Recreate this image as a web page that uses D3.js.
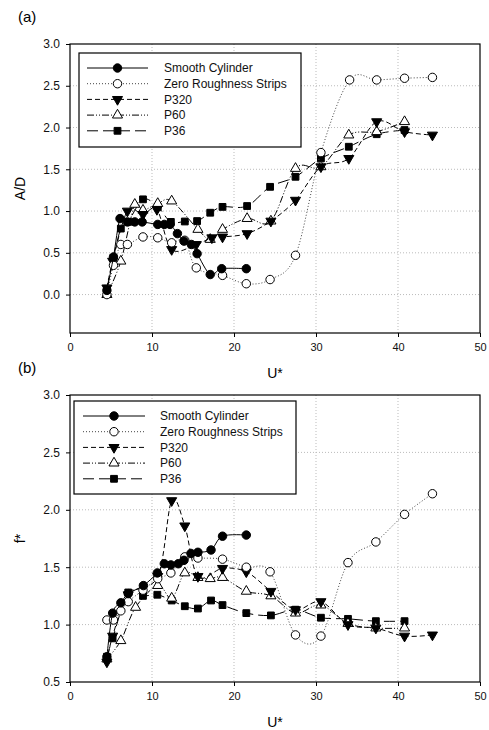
<!DOCTYPE html>
<html>
<head>
<meta charset="utf-8">
<script src="https://cdn.jsdelivr.net/npm/d3@7"></script>
<style>
  body { margin: 0; background: #fff; }
  text { font-family: "Liberation Sans", Arial, sans-serif; fill: #000; }
</style>
</head>
<body>
<svg id="fig" width="489" height="730"></svg>
<script>
// series names (legend order)
var seriesNames = ["Smooth Cylinder", "Zero Roughness Strips", "P320", "P60", "P36"];

// tick labels
var xTicks = [0, 10, 20, 30, 40, 50];
var yTicksA = [0.0, 0.5, 1.0, 1.5, 2.0, 2.5, 3.0];
var yTicksB = [0.5, 1.0, 1.5, 2.0, 2.5, 3.0];

// (a) amplitude A/D vs U*
var aSmooth = [[4.5, 0.05], [5.3, 0.45], [6.1, 0.91], [7.0, 0.87], [7.9, 0.87], [8.8, 0.87],
  [10.7, 0.84], [11.5, 0.84], [12.2, 0.84], [13.1, 0.73], [13.9, 0.64], [14.8, 0.60],
  [15.5, 0.49], [17.1, 0.24], [18.5, 0.31], [21.5, 0.31]];
var aZero = [[4.5, 0.0], [5.3, 0.35], [6.2, 0.6], [7.0, 0.6], [8.9, 0.69], [10.7, 0.68],
  [12.4, 0.62], [14.0, 0.65], [15.4, 0.32], [18.6, 0.23], [21.5, 0.13], [24.4, 0.18],
  [27.5, 0.47], [30.6, 1.70], [34.1, 2.57], [37.4, 2.57], [40.8, 2.59], [44.2, 2.60]];
var aP320 = [[4.5, 0.08], [5.2, 0.40], [7.0, 1.00], [8.9, 0.96], [10.6, 1.02], [12.4, 0.54],
  [15.4, 0.60], [17.3, 0.68], [18.6, 0.69], [21.6, 0.73], [24.5, 0.88], [27.5, 1.13],
  [30.6, 1.53], [34.0, 1.63], [37.4, 2.07], [40.8, 1.95], [44.2, 1.91]];
var aP60 = [[4.5, 0.0], [6.2, 0.40], [7.9, 1.08], [8.9, 1.01], [10.7, 1.09], [12.4, 1.12],
  [15.6, 0.78], [17.1, 0.66], [18.6, 0.78], [21.6, 0.91], [24.5, 0.88], [27.5, 1.51],
  [30.6, 1.53], [34.0, 1.91], [37.4, 1.95], [40.8, 2.07]];
var aP36 = [[4.5, 0.07], [5.3, 0.44], [6.2, 0.79], [7.1, 0.87], [8.9, 1.14], [10.7, 1.05],
  [12.3, 0.87], [14.0, 0.875], [15.5, 0.88], [17.1, 0.98], [18.6, 1.05], [21.6, 1.06],
  [24.4, 1.29], [27.5, 1.41], [30.6, 1.63], [34.0, 1.77], [37.4, 1.92], [40.8, 1.97]];

// (b) frequency ratio f* vs U*
var bSmooth = [[4.5, 0.72], [5.2, 1.10], [6.2, 1.19], [7.1, 1.27], [8.95, 1.34], [10.65, 1.45],
  [11.5, 1.53], [12.3, 1.52], [13.2, 1.53], [13.9, 1.56], [14.75, 1.62], [15.6, 1.63],
  [17.2, 1.65], [18.6, 1.77], [21.5, 1.78]];
var bZero = [[4.5, 1.04], [5.3, 1.04], [6.2, 1.12], [7.1, 1.2], [8.9, 1.3], [10.7, 1.4],
  [12.3, 1.45], [14.0, 1.59], [15.6, 1.58], [18.6, 1.57], [21.5, 1.50], [24.4, 1.46],
  [27.5, 0.91], [30.6, 0.90], [33.9, 1.54], [37.3, 1.72], [40.8, 1.96], [44.2, 2.14]];
var bP320 = [[4.5, 0.675], [5.2, 0.9], [7.1, 1.26], [10.7, 1.42], [12.4, 2.08], [14.0, 1.86],
  [15.6, 1.42], [18.6, 1.49], [21.5, 1.46], [24.5, 1.29], [27.5, 1.13], [30.6, 1.20],
  [33.9, 1.0], [37.3, 0.97], [40.8, 0.90], [44.2, 0.91]];
var bP60 = [[4.5, 0.70], [6.2, 0.86], [8.0, 1.15], [10.7, 1.34], [12.4, 1.23], [14.0, 1.45],
  [15.6, 1.41], [17.1, 1.40], [18.6, 1.41], [21.5, 1.29], [24.5, 1.25], [27.5, 1.10],
  [30.6, 1.17], [33.9, 1.01], [37.3, 0.97], [40.8, 0.97]];
var bP36 = [[4.5, 0.72], [5.2, 0.88], [7.1, 1.28], [8.9, 1.25], [10.65, 1.26], [12.4, 1.21],
  [14.0, 1.16], [15.6, 1.14], [17.2, 1.21], [18.6, 1.17], [21.5, 1.10], [24.5, 1.08],
  [27.5, 1.13], [30.6, 1.06], [33.9, 1.05], [37.3, 1.03], [40.8, 1.03]];

// line + marker styles, one per series
var styles = [
  { dash: null,          sym: d3.symbolCircle,   size: 56, fill: "#000", rot: 0,   stroke: "#000" },
  { dash: "1,2",         sym: d3.symbolCircle,   size: 56, fill: "#fff", rot: 0,   stroke: "#444" },
  { dash: "5,3",         sym: d3.symbolTriangle, size: 44, fill: "#000", rot: 180, stroke: "#000" },
  { dash: "7,2,1,2,1,2", sym: d3.symbolTriangle, size: 44, fill: "#fff", rot: 0,   stroke: "#000" },
  { dash: "11,5",        sym: d3.symbolSquare,   size: 46, fill: "#000", rot: 0,   stroke: "#000" }
];

var svg = d3.select("#fig");

function drawPanel(cfg) {
  var x = d3.scaleLinear().domain([0, 50]).range([70, 480]);
  var y = d3.scaleLinear().domain(cfg.yDomain).range([cfg.bottom, cfg.top]);
  var g = svg.append("g");

  // dotted grid
  g.selectAll(".gx").data([10, 20, 30, 40]).enter().append("line")
    .attr("x1", function (d) { return x(d); }).attr("x2", function (d) { return x(d); })
    .attr("y1", cfg.top).attr("y2", cfg.bottom)
    .style("stroke", "#bbb").style("stroke-dasharray", "1,2");
  g.selectAll(".gy").data(cfg.yTicks.filter(function (d) { return y(d) > cfg.top + 1 && y(d) < cfg.bottom - 1; }))
    .enter().append("line")
    .attr("x1", 70).attr("x2", 480)
    .attr("y1", function (d) { return y(d); }).attr("y2", function (d) { return y(d); })
    .style("stroke", "#bbb").style("stroke-dasharray", "1,2");

  // axes
  var xa = g.append("g").attr("transform", "translate(0," + cfg.bottom + ")")
    .call(d3.axisBottom(x).tickValues(xTicks).tickSize(4).tickPadding(6).tickFormat(d3.format("d")));
  var ya = g.append("g").attr("transform", "translate(70,0)")
    .call(d3.axisLeft(y).tickValues(cfg.yTicks).tickSize(4).tickPadding(6).tickFormat(d3.format(".1f")));
  [xa, ya].forEach(function (a) {
    a.select(".domain").remove();
    a.selectAll("line").style("stroke", "#000");
    a.selectAll("text").style("font-size", "12px").style("fill", "#111");
  });
  xa.selectAll("text").style("font-size", "11px");

  // frame
  g.append("rect").attr("x", 70).attr("y", cfg.top)
    .attr("width", 410).attr("height", cfg.bottom - cfg.top)
    .style("fill", "none").style("stroke", "#000").style("stroke-width", 1.2);

  // series
  var line = d3.line()
    .x(function (d) { return x(d[0]); })
    .y(function (d) { return y(d[1]); })
    .curve(d3.curveCardinal.tension(0));

  // draw from last to first so smooth cylinder sits on top
  for (var i = cfg.series.length - 1; i >= 0; i--) {
    var st = styles[i];
    var sg = g.append("g");
    sg.append("path").datum(cfg.series[i])
      .attr("d", line)
      .style("fill", "none").style("stroke", st.stroke).style("stroke-width", 1)
      .style("stroke-dasharray", st.dash);
    sg.selectAll("path.m").data(cfg.series[i]).enter().append("path")
      .attr("class", "m")
      .attr("d", d3.symbol().type(st.sym).size(st.size))
      .attr("transform", function (d) {
        return "translate(" + x(d[0]) + "," + y(d[1]) + ") rotate(" + st.rot + ")";
      })
      .style("fill", st.fill).style("stroke", "#000").style("stroke-width", 1);
  }

  // legend
  var L = cfg.legend;
  g.append("rect").attr("x", L.x).attr("y", L.y).attr("width", L.w).attr("height", L.h)
    .style("fill", "#fff").style("stroke", "#000").style("stroke-width", 1.2);
  seriesNames.forEach(function (name, k) {
    var st = styles[k];
    var yy = L.y + 15 + k * 15.7;
    g.append("line").attr("x1", L.lx1).attr("x2", L.lx2).attr("y1", yy).attr("y2", yy)
      .style("stroke", st.stroke).style("stroke-width", 1).style("stroke-dasharray", st.dash);
    g.append("path")
      .attr("d", d3.symbol().type(st.sym).size(st.size))
      .attr("transform", "translate(" + (L.lx1 + L.lx2) / 2 + "," + yy + ") rotate(" + st.rot + ")")
      .style("fill", st.fill).style("stroke", "#000");
    g.append("text").attr("x", L.tx).attr("y", yy).attr("dy", "0.36em")
      .style("font-size", "12px").style("fill", "#111").text(name);
  });

  // labels
  g.append("text").attr("x", 18).attr("y", cfg.top - 22)
    .style("font-size", "15px").text(cfg.tag);
  g.append("text").attr("x", 275).attr("y", cfg.bottom + 45).attr("text-anchor", "middle")
    .style("font-size", "14px").text("U*");
  g.append("text").attr("transform", "translate(25," + (cfg.top + cfg.bottom) / 2 + ") rotate(-90)")
    .attr("text-anchor", "middle").style("font-size", "14px").text(cfg.ylabel);
}

drawPanel({
  tag: "(a)", ylabel: "A/D", top: 44, bottom: 333, yDomain: [-0.46, 3.0], yTicks: yTicksA,
  series: [aSmooth, aZero, aP320, aP60, aP36],
  legend: { x: 79, y: 53, w: 222, h: 94, lx1: 87, lx2: 148, tx: 164 }
});
drawPanel({
  tag: "(b)", ylabel: "f*", top: 395, bottom: 682, yDomain: [0.5, 3.0], yTicks: yTicksB,
  series: [bSmooth, bZero, bP320, bP60, bP36],
  legend: { x: 74, y: 401, w: 222, h: 93, lx1: 83, lx2: 145, tx: 160 }
});
</script>
</body>
</html>
